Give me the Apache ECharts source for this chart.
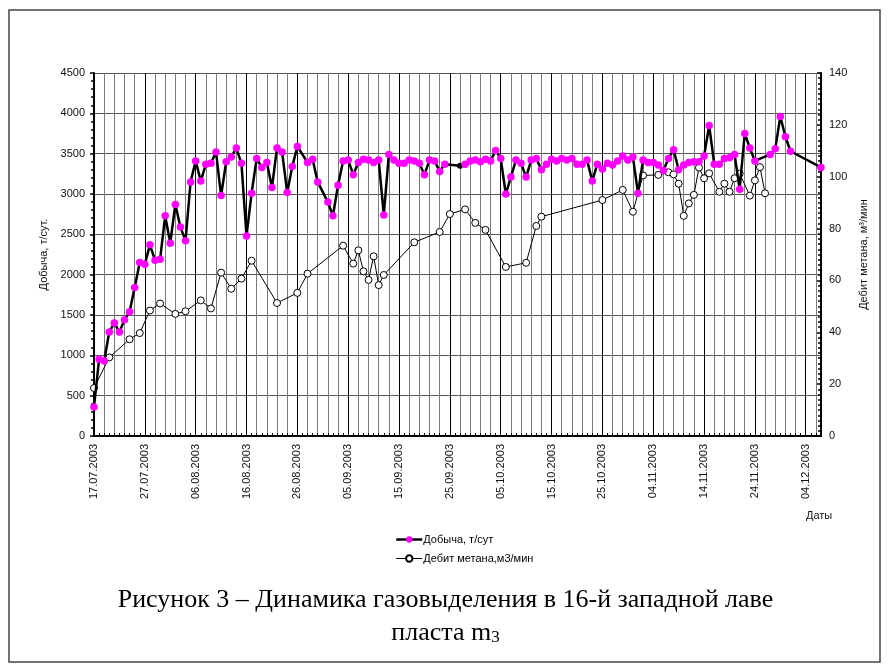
<!DOCTYPE html>
<html>
<head>
<meta charset="utf-8">
<script src="https://cdn.jsdelivr.net/npm/echarts@6/dist/echarts.min.js"></script>
<style>
  html, body { margin: 0; padding: 0; background: #fff; }
  #chart { width: 891px; height: 672px; }
</style>
</head>
<body>
<div id="chart"></div>
<script>
// даты оси: 17.07.2003 .. 07.12.2003, подпись каждые 10 дней
const axisStart = [2003, 6, 17]
const axisDays = 144

// Добыча, т/сут (левая ось)
const dobychaDates = [
  '17.07','18.07','19.07','20.07','21.07','22.07','23.07','24.07','25.07','26.07',
  '27.07','28.07','29.07','30.07','31.07','01.08','02.08','03.08','04.08','05.08',
  '06.08','07.08','08.08','09.08','10.08','11.08','12.08','13.08','14.08','15.08',
  '16.08','17.08','18.08','19.08','20.08','21.08','22.08','23.08','24.08','25.08',
  '26.08','28.08','29.08','30.08','01.09','02.09','03.09','04.09','05.09','06.09',
  '07.09','08.09','09.09','10.09','11.09','12.09','13.09','14.09','15.09','16.09',
  '17.09','18.09','19.09','20.09','21.09','22.09','23.09','24.09','27.09','28.09',
  '29.09','30.09','01.10','02.10','03.10','04.10','05.10','06.10','07.10','08.10',
  '09.10','10.10','11.10','12.10','13.10','14.10','15.10','16.10','17.10','18.10',
  '19.10','20.10','21.10','22.10','23.10','24.10','25.10','26.10','27.10','28.10',
  '29.10','30.10','31.10','01.11','02.11','03.11','04.11','05.11','06.11','07.11',
  '08.11','09.11','10.11','11.11','12.11','13.11','14.11','15.11','16.11','17.11',
  '18.11','19.11','20.11','21.11','22.11','23.11','24.11','27.11','28.11','29.11',
  '30.11','01.12','07.12'
]
const dobychaValues = [
  360, 950, 930, 1290, 1400, 1290, 1440, 1540, 1840, 2150,
  2130, 2370, 2180, 2190, 2730, 2390, 2870, 2590, 2420, 3150,
  3410, 3160, 3370, 3380, 3520, 2980, 3400, 3460, 3570, 3380,
  2480, 3010, 3440, 3330, 3390, 3080, 3570, 3520, 3020, 3340,
  3590, 3390, 3430, 3150, 2900, 2730, 3110, 3410, 3420, 3240,
  3390, 3430, 3420, 3390, 3420, 2740, 3490, 3420, 3380, 3380,
  3420, 3410, 3380, 3240, 3420, 3410, 3280, 3370, 3350, 3370,
  3410, 3420, 3400, 3430, 3410, 3540, 3440, 3000, 3210, 3420,
  3380, 3210, 3420, 3440, 3300, 3370, 3430, 3410, 3440, 3420,
  3440, 3370, 3370, 3420, 3160, 3370, 3310, 3380, 3360, 3410,
  3470, 3420, 3460, 3010, 3420, 3390, 3390, 3360, 3290, 3440,
  3550, 3300, 3360, 3390, 3400, 3400, 3470, 3850, 3370, 3370,
  3440, 3450, 3490, 3060, 3750, 3570, 3410, 3490, 3560, 3960,
  3710, 3530, 3330
]
const blackPointDate = '27.09'

// Дебит метана, м3/мин (правая ось)
const metanDates = [
  '17.07','20.07','24.07','26.07','28.07','30.07','02.08','04.08','07.08','09.08',
  '11.08','13.08','15.08','17.08','22.08','26.08','28.08','04.09','06.09','07.09',
  '08.09','09.09','10.09','11.09','12.09','18.09','23.09','25.09','28.09','30.09',
  '02.10','06.10','10.10','12.10','13.10','25.10','29.10','31.10','02.11','05.11',
  '07.11','08.11','09.11','10.11','11.11','12.11','13.11','14.11','15.11','17.11',
  '18.11','19.11','20.11','21.11','23.11','24.11','25.11','26.11'
]
const metanValues = [
  18.5, 30.3, 37.3, 39.7, 48.4, 51.1, 47.1, 48.1, 52.3, 49.2,
  63.0, 56.8, 60.7, 67.6, 51.3, 55.2, 62.6, 73.4, 66.5, 71.6,
  63.5, 60.2, 69.3, 58.2, 62.1, 74.7, 78.7, 85.6, 87.4, 82.2,
  79.5, 65.2, 66.8, 81.0, 84.6, 91.0, 94.9, 86.5, 100.5, 100.7,
  101.7, 100.9, 97.3, 84.9, 89.7, 93.0, 103.5, 99.4, 101.3, 94.2,
  97.3, 94.2, 99.4, 101.2, 92.7, 98.6, 103.7, 93.6
]

const pad = n => (n < 10 ? '0' : '') + n
const categories = []
for (let i = 0; i < axisDays; i++) {
  const d = new Date(axisStart[0], axisStart[1], axisStart[2] + i)
  categories.push(pad(d.getDate()) + '.' + pad(d.getMonth() + 1) + '.' + d.getFullYear())
}
const idx = s => categories.indexOf(s + '.2003')

const dobychaData = dobychaDates.map((d, i) => {
  const item = { value: [idx(d), dobychaValues[i]] }
  if (d === blackPointDate) {
    item.itemStyle = { color: '#000' }
    item.symbolSize = 6
  }
  return item
})
const metanData = metanDates.map((d, i) => [idx(d), metanValues[i]])

const font = 'Liberation Sans, Arial, sans-serif'
const serif = 'Liberation Serif, Times New Roman, serif'
const chart = echarts.init(document.getElementById('chart'))

chart.setOption({
  animation: false,
  backgroundColor: '#fff',
  grid: { left: 94, right: 70, top: 73, bottom: 236 },
  legend: {
    orient: 'vertical',
    left: 390,
    top: 529,
    itemGap: 8,
    itemWidth: 26,
    itemHeight: 8,
    data: [
      { name: 'Добыча, т/сут', lineStyle: { width: 2.5 } },
      { name: 'Дебит метана,м3/мин', lineStyle: { width: 1 } }
    ],
    textStyle: { fontFamily: font, fontSize: 11, color: '#000', padding: [0, 0, 0, -4] }
  },
  xAxis: [
    {
      type: 'category',
      data: categories,
      boundaryGap: false,
      axisLine: { lineStyle: { color: '#000', width: 2 } },
      axisTick: { interval: 0, inside: true, length: 3, lineStyle: { color: '#000' } },
      axisLabel: {
        interval: 9,
        rotate: 90,
        margin: 8,
        fontFamily: font,
        fontSize: 11,
        color: '#111'
      },
      splitLine: { show: true, interval: 1, lineStyle: { color: '#7a7a7a', width: 1 } }
    },
    {
      type: 'category',
      data: categories,
      boundaryGap: false,
      position: 'bottom',
      axisLine: { show: false },
      axisTick: { show: false },
      axisLabel: { show: false },
      splitLine: { show: true, interval: 9, lineStyle: { color: '#000', width: 1 } }
    }
  ],
  yAxis: [
    {
      type: 'value',
      min: 0,
      max: 4500,
      interval: 500,
      name: 'Добыча, т/сут.',
      nameLocation: 'middle',
      nameGap: 34,
      nameTextStyle: { fontFamily: font, fontSize: 11, color: '#111' },
      axisLine: { show: true, lineStyle: { color: '#000', width: 2 } },
      axisTick: { show: true, length: 4, lineStyle: { color: '#000', width: 1.5 } },
      minorTick: { show: true, splitNumber: 5, length: 3, lineStyle: { color: '#000', width: 1.5 } },
      axisLabel: { fontFamily: font, fontSize: 11, color: '#111', margin: 9, formatter: v => String(v) },
      splitLine: { show: true, lineStyle: { color: '#555', width: 1 } }
    },
    {
      type: 'value',
      min: 0,
      max: 140,
      interval: 20,
      position: 'right',
      name: 'Дебит метана, м³/мин',
      nameLocation: 'middle',
      nameGap: 36,
      nameRotate: 90,
      nameTextStyle: { fontFamily: font, fontSize: 11, color: '#111' },
      axisLine: { show: true, lineStyle: { color: '#000', width: 2 } },
      axisTick: { show: true, inside: true, length: 4, lineStyle: { color: '#000', width: 1.5 } },
      minorTick: { show: true, splitNumber: 10, length: 3, lineStyle: { color: '#000', width: 1.5 } },
      axisLabel: { fontFamily: font, fontSize: 11, color: '#111', margin: 8 },
      splitLine: { show: false }
    }
  ],
  series: [
    {
      name: 'Дебит метана,м3/мин',
      type: 'line',
      yAxisIndex: 1,
      data: metanData,
      showAllSymbol: true,
      symbol: 'circle',
      symbolSize: 7,
      lineStyle: { color: '#000', width: 1 },
      itemStyle: { color: '#fff', borderColor: '#000', borderWidth: 1 },
      z: 3
    },
    {
      name: 'Добыча, т/сут',
      type: 'line',
      data: dobychaData,
      showAllSymbol: true,
      symbol: 'circle',
      symbolSize: 7.5,
      lineStyle: { color: '#000', width: 2.5 },
      itemStyle: { color: '#ff00ff', borderWidth: 0 },
      z: 4
    }
  ],
  graphic: [
    {
      type: 'rect',
      shape: { x: 9, y: 10, width: 871, height: 652 },
      style: { fill: 'none', stroke: '#444', lineWidth: 1.5 },
      silent: true
    },
    {
      type: 'text',
      left: 806,
      top: 510,
      style: { text: 'Даты', font: '11px ' + font, fill: '#111' }
    },
    {
      type: 'text',
      left: 'center',
      top: 587,
      style: {
        text: 'Рисунок 3 – Динамика газовыделения в 16-й западной лаве',
        font: '26px ' + serif,
        fill: '#000'
      }
    },
    {
      type: 'text',
      left: 'center',
      top: 620,
      style: {
        text: '{a|пласта m}{b|3}',
        rich: {
          a: { font: '26px ' + serif, fill: '#000' },
          b: { font: '17px ' + serif, fill: '#000', verticalAlign: 'bottom', padding: [8, 0, 0, 0] }
        }
      }
    }
  ]
})
</script>
</body>
</html>
